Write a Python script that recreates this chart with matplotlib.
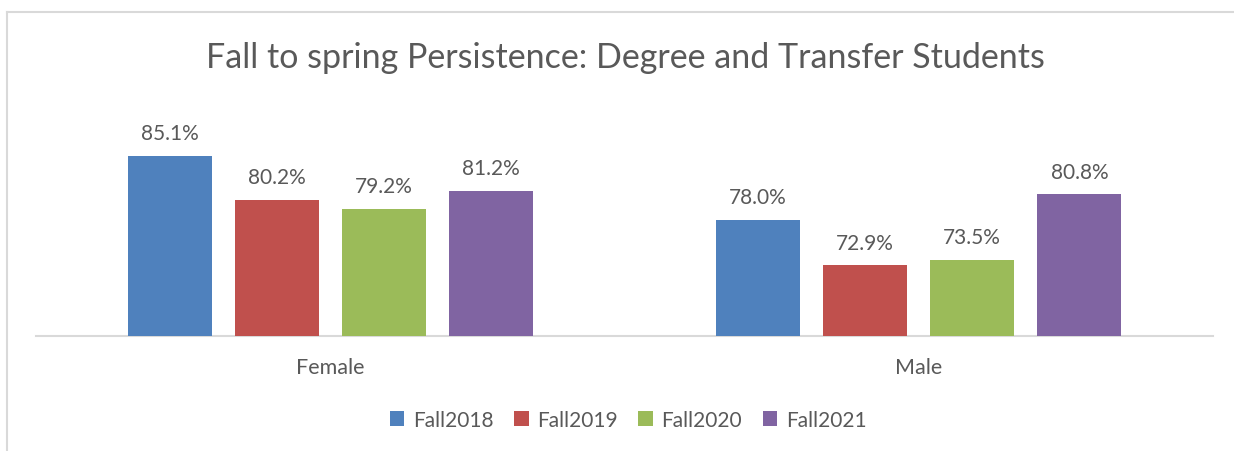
import numpy as np
from matplotlib import pyplot as plt
from matplotlib.lines import Line2D

categories = ["Female", "Male"]
series_names = ["Fall2018", "Fall2019", "Fall2020", "Fall2021"]
fall2018 = [85.1, 78.0]
fall2019 = [80.2, 72.9]
fall2020 = [79.2, 73.5]
fall2021 = [81.2, 80.8]
colors = ["#4F81BD", "#C0504D", "#9BBB59", "#8064A2"]

title = "Fall to spring Persistence: Degree and Transfer Students"
text_color = "#595959"
grid_color = "#D9D9D9"

plt.rcParams["font.family"] = ["Lato", "DejaVu Sans"]

W, H = 1234, 452
fig = plt.figure(figsize=(W / 100, H / 100), dpi=100)

# plot area in pixels: x 36..1213, y 113..337 (from top)
ax = fig.add_axes([36 / W, (H - 337) / H, (1213 - 36) / W, (337 - 113) / H])

all_series = [fall2018, fall2019, fall2020, fall2021]
x = np.arange(len(categories))
bar_w = 0.143
step = 0.182

for i, (vals, name, c) in enumerate(zip(all_series, series_names, colors)):
    offs = (i - 1.5) * step
    bars = ax.bar(x + offs, vals, bar_w, bottom=0, color=c, label=name, zorder=2)
    for xi, v in zip(x + offs, vals):
        ax.text(xi, v + 1.4, f"{v:.1f}%", ha="center", va="bottom",
                fontsize=15, color=text_color)

ax.set_xlim(-0.5, 1.5)
ax.set_ylim(65, 90)
ax.set_yticks([])
ax.set_xticks(x)
ax.set_xticklabels(categories, fontsize=15.5, color=text_color)
ax.tick_params(axis="x", length=0, pad=15)
for side in ["top", "right", "left"]:
    ax.spines[side].set_visible(False)
ax.spines["bottom"].set_color(grid_color)
ax.spines["bottom"].set_linewidth(1.5)
ax.spines["bottom"].set_zorder(1)

fig.suptitle(title, x=625 / W, y=1 - 58 / H, va="center", fontsize=24.5, color=text_color)

leg = fig.legend(loc="center", bbox_to_anchor=(628 / W, 1 - 421 / H), ncol=4,
                 frameon=False, fontsize=15, handlelength=0.7, handleheight=0.7,
                 handletextpad=0.4, columnspacing=1.0)
for t in leg.get_texts():
    t.set_color(text_color)

# chart border (top and left visible)
fig.add_artist(Line2D([7 / W, 1233 / W], [1 - 13 / H, 1 - 13 / H], color=grid_color, lw=1.5))
fig.add_artist(Line2D([7 / W, 7 / W], [1 - 13 / H, 0], color=grid_color, lw=1.5))

fig.savefig("out.png", dpi=100)
